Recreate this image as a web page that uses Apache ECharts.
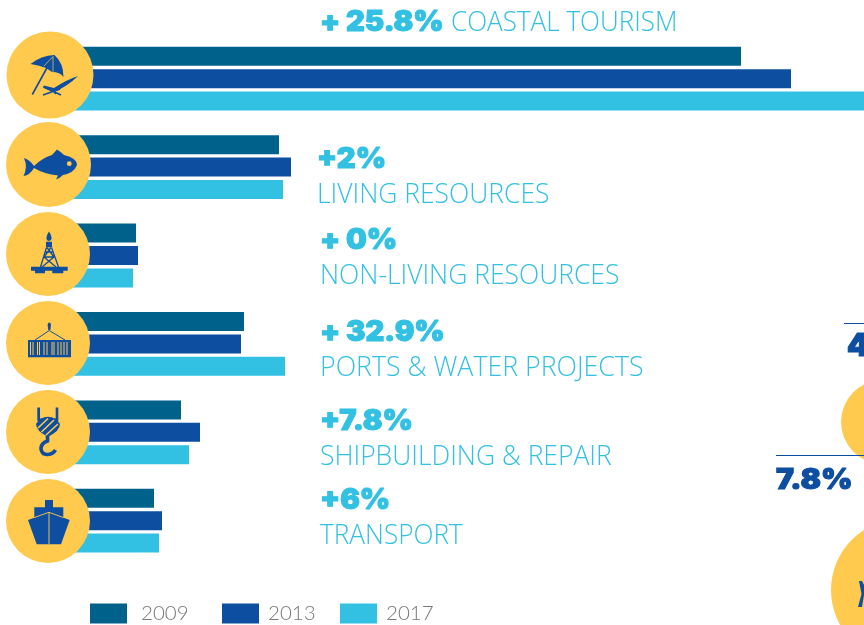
<!DOCTYPE html>
<html><head><meta charset="utf-8">
<style>html,body{margin:0;padding:0;background:#fff}#c{width:864px;height:625px}</style>
<script src="https://cdn.jsdelivr.net/npm/echarts@6/dist/echarts.min.js"></script>
</head><body><div id="c"></div>
<script>
var categories = ['COASTAL TOURISM','LIVING RESOURCES','NON-LIVING RESOURCES','PORTS & WATER PROJECTS','SHIPBUILDING & REPAIR','TRANSPORT'];
var changes = ['+ 25.8%','+2%','+ 0%','+ 32.9%','+7.8%','+6%'];
var years = ['2009','2013','2017'];
var values2009 = [693,231,88,196,133,106];
var values2013 = [743,243,90,193,152,114];
var values2017 = [864,235,85,237,141,111];

var TEAL='#00628B', BLUE='#0D4EA0', CYAN='#32C1E3', YEL='#FFCA4E', GREY='#77787B';
var LIGHT='300 27px "Open Sans"', HEAVY='900 28px Inter';

function txt(s,x,y,font,fill,w,bold){
  return {type:'text',z:20,x:x,y:y,scaleX:w,style:{text:s,x:0,y:0,font:font,fill:fill,textVerticalAlign:'middle',stroke:bold?fill:null,lineWidth:bold?1.1:0}};
}
var pn=0;
function shape(d){var n='icon'+(pn++);echarts.graphic.registerShape(n,echarts.graphic.extendPath(d,{}));return n;}
function fillP(d,c){return {type:shape(d),z:12,style:{fill:c,stroke:'none'}};}
function lineP(d,c,w){return {type:shape(d),z:13,style:{fill:'none',stroke:c,lineWidth:w}};}
function circ(x,y,r){return {type:'circle',z:10,shape:{cx:x,cy:y,r:r},style:{fill:YEL}};}

var rows=[
 {h:[320,23],n:[451,23],s:0.965},
 {h:[317,160],n:[317,195],s:0.98},
 {h:[320,241],n:[320,276],s:0.98},
 {h:[320,333],n:[320,368],s:0.99},
 {h:[320,422],n:[320,457],s:0.98},
 {h:[320,501],n:[320,536],s:0.97}
];
var g=[];
[[50,75,43.5],[48.5,164.5,42.5],[48,254,42],[48,343,42],[48,432,42],[48,521,42],[883,422,42],[902,590,71]].forEach(function(c){g.push(circ(c[0],c[1],c[2]));});
categories.forEach(function(n,i){
  g.push(txt(changes[i],rows[i].h[0],rows[i].h[1],HEAVY,CYAN,1.04,true));
  g.push(txt(n,rows[i].n[0],rows[i].n[1],LIGHT,CYAN,rows[i].s));
});
// umbrella + lounger
g.push(fillP('M30.5 64Q41 55.5 54.5 55Q63.5 63 63.5 77Q60 72 52 72L46 68Q38 65 30.5 64Z',BLUE));
g.push(lineP('M32.3 94.5L53.5 56',BLUE,1.6));
g.push(lineP('M44 66L53 56.5L53 72',YEL,0.7));
g.push(fillP('M78 76Q66 80 54 88L44 85.5L43 87.5L51 91L54 92Q68 86 78 76Z',BLUE));
g.push(lineP('M43.5 87L61 95M43 95L60 89M52 90L56 94',BLUE,1.5));
// fish
g.push(fillP('M24 158Q30 160 34 166Q42 158 52 155L57 149.5Q61 152 64 155Q77 158 77 165Q74 173 63 175Q60 178 56 179.5L58 175.5Q44 174 34 168Q30 175 23.5 176Q28 167 24 158Z',BLUE));
var eye=circ(69.3,163.7,2.4); eye.z=14; g.push(eye);
// rig
g.push(fillP('M49 231.5Q52 236 51.5 239Q50.5 241 49 241Q47 241 46.5 239Q46 236 49 231.5ZM46 241.7H52V247.3H46ZM31 266.7H67.7V270.7H31ZM35 270.7H45V273.3H35ZM52.3 270.7H63.3V273.3H52.3Z',BLUE));
g.push(lineP('M46.5 247.5L40.5 267M51.5 247.5L58.5 267M45.5 252H52.5M44 257L56 267M54 257L42 267M44 257H54M47 247.5L54 257M51 247.5L44 257',BLUE,1.3));
// container
g.push(fillP('M28 340H71V357.3H28ZM48.3 322.7H50.3L51 325L50.3 330H48.3L47.6 325Z',BLUE));
g.push(lineP('M35 340L49.3 330.5L65 340',BLUE,1));
g.push(lineP('M30.5 342V355M33 342V355M37.5 342V355M39.5 342V355M44 342V355M47 342V355M52 342V355M54 342V355M58 342V355M61 342V355M64 342V355M67 342V355',YEL,1));
// hook
g.push(fillP('M37.3 407.5H40V418.5H55.7V407.5H58.3V421H37.3Z',BLUE));
g.push(fillP('M36 424Q40 417 48 416.7Q56 417 60 424Q60 431 48 436.7Q36 431 36 424Z',BLUE));
g.push(lineP('M38 428L48 418.5M41.5 432L54 420M46 435L58 424',YEL,1.6));
g.push(lineP('M47.5 436L47.5 441Q41 443 41 449Q42 455 48 454.5Q53 454 55.5 450',BLUE,3.6));
// ship
g.push(fillP('M45 500H53V507.3H63.3V517H34.3V507.3H45ZM28 520L49 512.3L69.7 520L61 544.3H36.7Z',BLUE));
g.push(lineP('M34.3 517.5L49 512.3L63.3 517.5M49 512.3V544.3',YEL,0.9));
// right side fragments
g.push(lineP('M844 323.5H864M776 455.5H864',BLUE,1));
g.push(txt('4',847,347,'900 31px Inter',BLUE,1,true));
g.push(txt('7.8%',776,481,'900 28px Inter',BLUE,1.08,true));
g.push(fillP('M859 581H862L864 585V595L862 607H858L861.5 594Z',BLUE));

function bar(name,data,color){
  return {name:name,type:'bar',data:data,barWidth:19,barGap:'18%',itemStyle:{color:color},z:2,silent:true,animation:false};
}
function lg(name,left,pad){
  return {data:[name],left:left,top:603,padding:0,itemWidth:37,itemHeight:20,icon:'rect',selectedMode:false,
    textStyle:{color:GREY,fontFamily:'Lato',fontWeight:300,fontSize:20.5,padding:[2,0,0,pad]}};
}
var chart=echarts.init(document.getElementById('c'),null,{renderer:'canvas'});
chart.setOption({
  animation:false,
  grid:{left:48,right:0,top:34.5,height:530.4},
  xAxis:{type:'value',min:0,max:816,show:false},
  yAxis:{type:'category',inverse:true,data:categories,show:false},
  legend:[lg(years[0],90,9),lg(years[1],222,4),lg(years[2],340,4)],
  series:[bar(years[0],values2009,TEAL),bar(years[1],values2013,BLUE),bar(years[2],values2017,CYAN)],
  graphic:{elements:g}
});
</script></body></html>
